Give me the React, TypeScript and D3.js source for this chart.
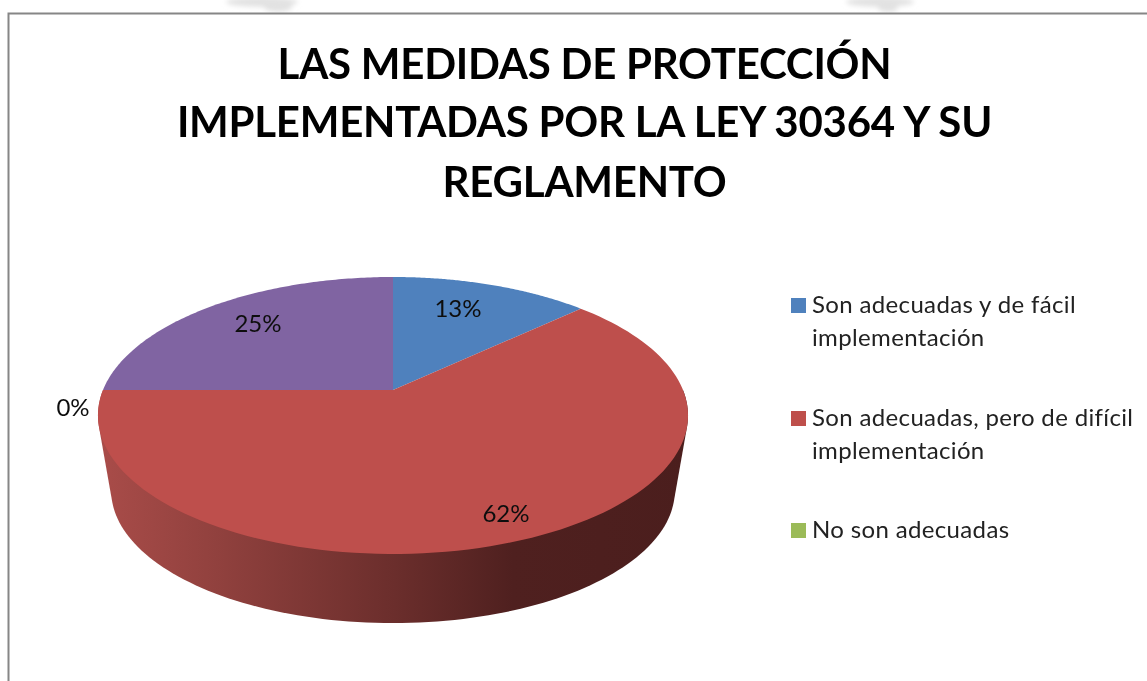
import React from "react";
import * as d3 from "d3";

const titleLines = ["LAS MEDIDAS DE PROTECCIÓN", "IMPLEMENTADAS POR LA LEY 30364 Y SU", "REGLAMENTO"];
const titleBaselines = [79, 137, 197];
const categories = ["Son adecuadas y de fácil implementación", "Son adecuadas, pero de difícil implementación", "No son adecuadas", "Otros"];
const values = [13, 62, 0, 25];
const colors = ["#4f81bd", "#be4f4c", "#9bbb59", "#8064a2"];
const legendLines = [["Son adecuadas y de fácil", "implementación"], ["Son adecuadas, pero de difícil", "implementación"], ["No son adecuadas"]];
const legendBaselines = [313, 426, 538];
const labelPos = [[458, 317], [506, 522], [73, 416], [258, 332]];

const W = 1147, H = 681;
const CX = 393, APEX_Y = 390, A = 290, B = 133.8, K = 0.184;
// perspective projection of a unit circle
const project = (theta: number, scale = 1, dy = 0): [number, number] => {
  const u = Math.sin(theta), v = Math.cos(theta), w = 1 + K * v;
  return [CX + (A * scale * u) / w, APEX_Y + dy - (B * scale * v) / w];
};
const rimLine = d3.line();
const sampleArc = (a0: number, a1: number, scale = 1, dy = 0) =>
  d3.range(0, 121).map((i) => project(a0 + ((a1 - a0) * i) / 120, scale, dy));

export default function App() {
  const arcs = d3.pie<number>().sort(null)(values);
  const apex: [number, number] = [CX, APEX_Y];
  const top = sampleArc(Math.PI / 2, (3 * Math.PI) / 2);
  const bottom = sampleArc(Math.PI / 2, (3 * Math.PI) / 2, 0.955, 76.5);
  const side = d3.polygonHull([...top, ...bottom]) as [number, number][];
  const font = "Lato, 'Open Sans', sans-serif";
  return (
    <svg width={W} height={H} style={{ position: "absolute", left: 0, top: 0, display: "block", background: "#fff" }}>
      <defs>
        <linearGradient id="side" gradientUnits="userSpaceOnUse" x1={100} x2={690} y1={0} y2={0}>
          <stop offset="0" stopColor="#a94c49" />
          <stop offset="0.18" stopColor="#93423f" />
          <stop offset="0.5" stopColor="#6b2e2c" />
          <stop offset="0.7" stopColor="#4f201f" />
          <stop offset="1" stopColor="#4b1e1d" />
        </linearGradient>
        <filter id="soft" x="-5%" y="-5%" width="110%" height="110%"><feGaussianBlur stdDeviation="0.45" /></filter>
        <filter id="wash" x="-30%" y="-100%" width="160%" height="300%"><feGaussianBlur stdDeviation="2.5" /></filter>
      </defs>
      <g filter="url(#wash)" fill="#e2e2e2">
        <ellipse cx={262} cy={2} rx={36} ry={5} />
        <ellipse cx={278} cy={7} rx={14} ry={5} />
        <ellipse cx={880} cy={2} rx={34} ry={5} />
        <ellipse cx={888} cy={8} rx={10} ry={4} />
      </g>
      <rect x={8.5} y={13.5} width={W + 10} height={H + 10} fill="#fff" stroke="#868686" strokeWidth={2} />
      <path d={rimLine(side)! + "Z"} fill="url(#side)" />
      {arcs.map((a, i) =>
        a.value > 0 ? (
          <path key={i} d={rimLine([apex, ...sampleArc(a.startAngle, a.endAngle)])! + "Z"} fill={colors[i]} />
        ) : null
      )}
      <g filter="url(#soft)">
        <g fontFamily={font} textAnchor="middle" fontWeight={700} fontSize={42} fill="#000" letterSpacing={-0.25}>
          {titleLines.map((t, i) => (
            <text key={t} x={584.5} y={titleBaselines[i]}>{t}</text>
          ))}
        </g>
        <g fontFamily={font} fontSize={24} fill="#111" textAnchor="middle">
          {values.map((v, i) => (
            <text key={i} x={labelPos[i][0]} y={labelPos[i][1]}>{v}%</text>
          ))}
        </g>
        <g fontFamily={font} fontSize={24} fill="#222">
          {legendLines.map((lines, i) => (
            <g key={i}>
              <rect x={791} y={legendBaselines[i] - 15} width={15} height={15} fill={colors[i]} />
              {lines.map((l, j) => (
                <text key={l} x={812} y={legendBaselines[i] + j * 33} letterSpacing={0.35}>{l}</text>
              ))}
            </g>
          ))}
        </g>
      </g>
    </svg>
  );
}
